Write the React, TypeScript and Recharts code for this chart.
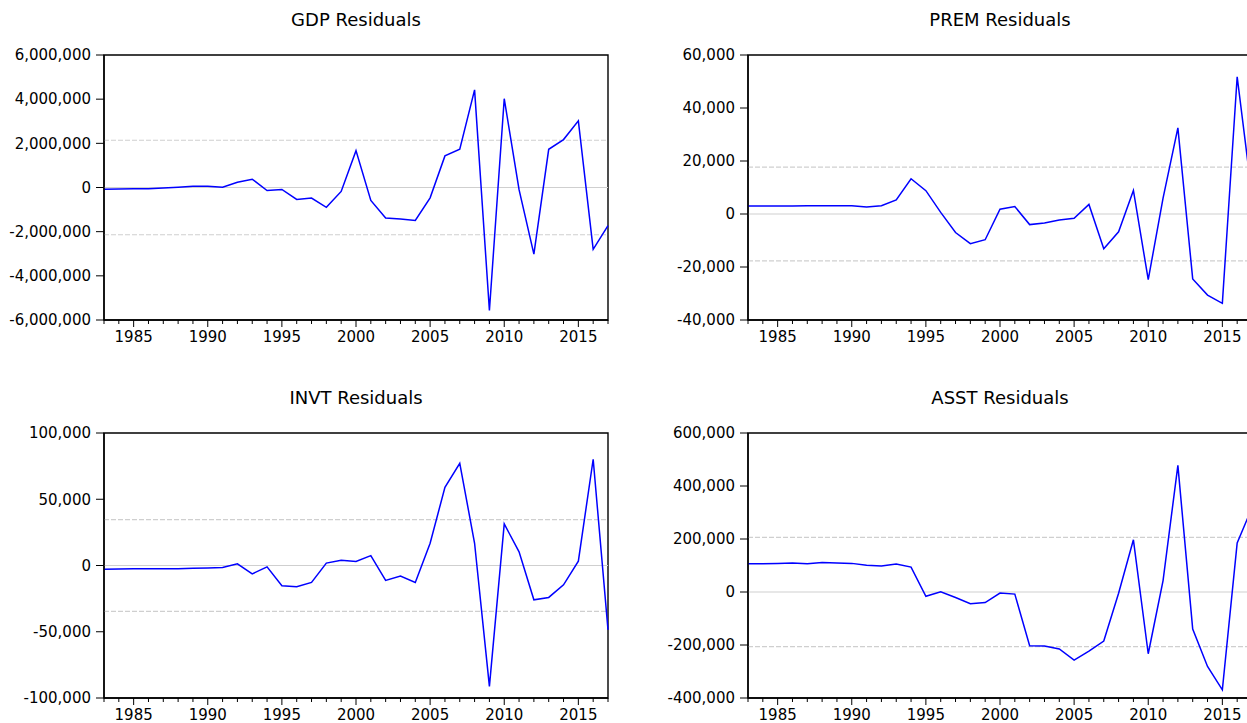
import React from 'react';
import { LineChart, Line, XAxis, YAxis, ReferenceLine, ReferenceArea } from 'recharts';

const years = [1983, 1984, 1985, 1986, 1987, 1988, 1989, 1990, 1991, 1992, 1993, 1994, 1995, 1996, 1997, 1998, 1999, 2000, 2001, 2002, 2003, 2004, 2005, 2006, 2007, 2008, 2009, 2010, 2011, 2012, 2013, 2014, 2015, 2016, 2017];

const gdp = [-75000, -70000, -60000, -60000, -20000, 15000, 60000, 60000, 15000, 240000, 376000, -135000, -90000, -540000, -480000, -900000, -180000, 1670000, -587000, -1385000, -1430000, -1490000, -467000, 1430000, 1730000, 4420000, -5570000, 4020000, -100000, -3020000, 1730000, 2170000, 3020000, -2800000, -1730000];
const prem = [3000, 3000, 3000, 3000, 3100, 3100, 3100, 3100, 2600, 3100, 5300, 13300, 8800, 600, -7000, -11200, -9700, 1800, 2800, -4000, -3400, -2300, -1600, 3600, -13100, -6700, 8900, -24800, 6000, 32500, -24500, -30600, -33700, 51800, 6900];
const invt = [-2800, -2600, -2500, -2500, -2500, -2400, -2100, -1800, -1500, 1300, -6300, -1000, -15300, -16100, -12800, 1800, 4000, 3000, 7500, -11300, -8000, -12800, 16800, 59000, 77100, 16800, -91200, 31400, 10300, -25900, -24100, -14600, 3300, 80200, -48500];
const asst = [107000, 107000, 108000, 109000, 107000, 111000, 109000, 108000, 101000, 98000, 106000, 94000, -16000, 1000, -21000, -44000, -40000, -4000, -8000, -203000, -204000, -215000, -257000, -223000, -185000, -5000, 197000, -233000, 43000, 478000, -140000, -281000, -369000, 185000, 318000];

const gdpTicks = [-6000000, -4000000, -2000000, 0, 2000000, 4000000, 6000000];
const premTicks = [-40000, -20000, 0, 20000, 40000, 60000];
const invtTicks = [-100000, -50000, 0, 50000, 100000];
const asstTicks = [-400000, -200000, 0, 200000, 400000, 600000];

const gdpBand = 2140000;
const premBand = 17700;
const invtBand = 34600;
const asstBand = 206000;

const FONT = 'DejaVu Sans';

const XTick = (props: any) => {
  const { x, y, payload } = props;
  const v = payload.value as number;
  const major = v % 5 === 0;
  return (
    <g>
      <line x1={x} x2={x} y1={y} y2={y + (major ? 7 : 4)} stroke="#000" strokeWidth={1} />
      {major && (
        <text x={x} y={y + 22} textAnchor="middle" fontSize={15} fontFamily={FONT} fill="#000">
          {v}
        </text>
      )}
    </g>
  );
};

const fmt = (v: number) => v.toLocaleString('en-US');

type PanelProps = {
  left: number;
  top: number;
  title: string;
  values: number[];
  ticks: number[];
  band: number;
};

const Panel = ({ left, top, title, values, ticks, band }: PanelProps) => {
  const data = years.map((y, i) => ({ year: y, v: values[i] }));
  const lo = ticks[0];
  const hi = ticks[ticks.length - 1];
  return (
    <>
      <div
        style={{
          position: 'absolute',
          left: left + 104,
          top: top - 32,
          width: 504,
          textAlign: 'center',
          fontFamily: FONT,
          fontSize: 18,
          lineHeight: '24px',
          color: '#000',
        }}
      >
        {title}
      </div>
      <div style={{ position: 'absolute', left, top }}>
        <LineChart width={612} height={310} data={data} margin={{ top: 15, right: 4, bottom: 0, left: 0 }}>
          <XAxis
            dataKey="year"
            type="number"
            domain={[1983, 2017]}
            ticks={years}
            interval={0}
            tickSize={0}
            tickMargin={0}
            tickLine={false}
            tick={<XTick />}
            axisLine={{ stroke: '#000', strokeWidth: 1.4 }}
            height={30}
          />
          <YAxis
            type="number"
            domain={[lo, hi]}
            ticks={ticks}
            interval={0}
            width={104}
            tickSize={8}
            tickMargin={5}
            tickFormatter={fmt}
            tick={{ fontSize: 15, fontFamily: FONT, fill: '#000' }}
            tickLine={{ stroke: '#000' }}
            axisLine={{ stroke: '#000', strokeWidth: 1.4 }}
          />
          <ReferenceLine y={0} stroke="#cfcfcf" strokeWidth={1.2} />
          <ReferenceLine y={band} stroke="#cfcfcf" strokeWidth={1.2} strokeDasharray="5 2" />
          <ReferenceLine y={-band} stroke="#cfcfcf" strokeWidth={1.2} strokeDasharray="5 2" />
          <Line
            type="linear"
            dataKey="v"
            stroke="#0000ff"
            strokeWidth={1.5}
            dot={false}
            isAnimationActive={false}
          />
          <ReferenceArea x1={1983} x2={2017} y1={lo} y2={hi} fill="none" stroke="#000" strokeWidth={1.4} />
        </LineChart>
      </div>
    </>
  );
};

export default function App() {
  return (
    <div
      style={{
        position: 'absolute',
        left: 0,
        top: 0,
        width: 1247,
        height: 723,
        overflow: 'hidden',
        background: '#fff',
      }}
    >
      <Panel left={0} top={40} title="GDP Residuals" values={gdp} ticks={gdpTicks} band={gdpBand} />
      <Panel left={644} top={40} title="PREM Residuals" values={prem} ticks={premTicks} band={premBand} />
      <Panel left={0} top={418} title="INVT Residuals" values={invt} ticks={invtTicks} band={invtBand} />
      <Panel left={644} top={418} title="ASST Residuals" values={asst} ticks={asstTicks} band={asstBand} />
    </div>
  );
}
